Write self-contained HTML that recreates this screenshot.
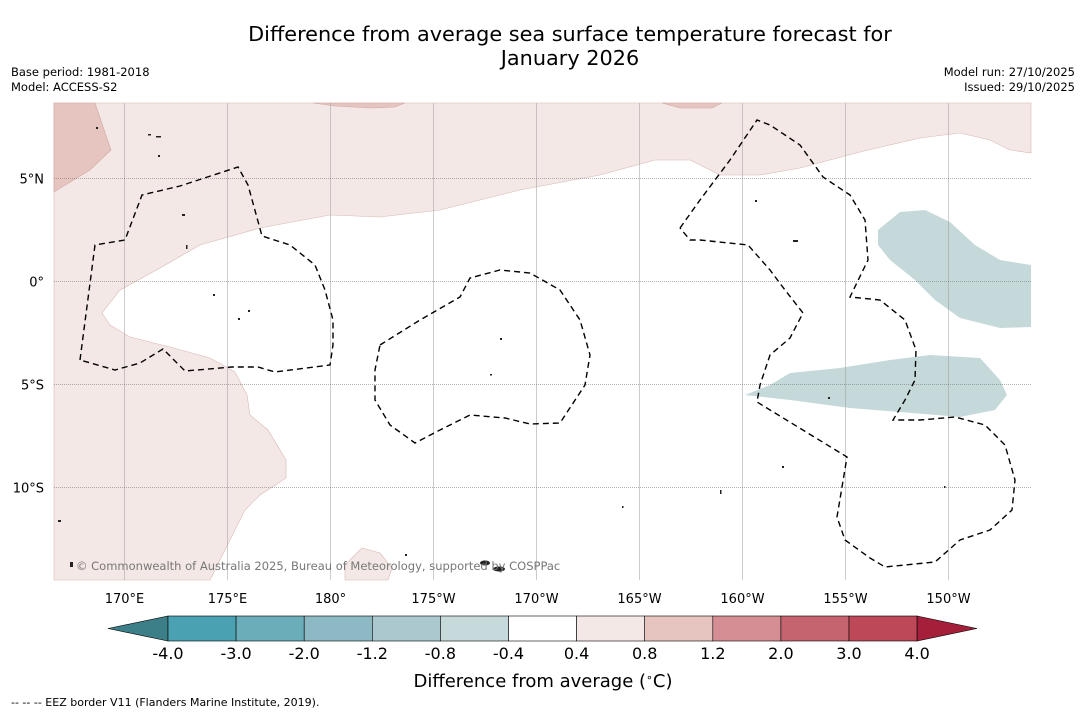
<!DOCTYPE html>
<html><head><meta charset="utf-8"><style>
body{margin:0;background:#fff;font-family:"DejaVu Sans","Liberation Sans",sans-serif}
#wrap{position:relative;width:1085px;height:713px;overflow:hidden;background:#fff}
.t{position:absolute;white-space:nowrap;color:#000}
</style></head><body>
<div id="wrap">
<div class="t" style="left:0;width:1140px;text-align:center;top:22px;font-size:20.8px;line-height:24px">Difference from average sea surface temperature forecast for<br>January 2026</div>
<div class="t" style="left:11px;top:65px;font-size:11.5px;line-height:15px">Base period: 1981-2018<br>Model: ACCESS-S2</div>
<div class="t" style="right:10px;top:65px;font-size:11.5px;line-height:15px;text-align:right">Model run: 27/10/2025<br>Issued: 29/10/2025</div>
<svg id="svg" width="1085" height="713" style="position:absolute;left:0;top:0">
<g id="map">
<rect x="54" y="103" width="977" height="477" fill="#fff"/>
<path fill="#f4e8e6" stroke="#d8b8b4" stroke-width="0.6" d="M54,103 L1031,103 L1031,153 L1010,150 L990,140 L960,133 L920,138 L860,152 L800,168 L760,175 L720,175 L690,160 L655,160 L600,175 L520,190 L440,210 L380,217 L330,215 L260,228 L200,245 L160,268 L120,290 L102,313 L110,325 L130,337 L170,347 L210,358 L235,372 L247,395 L250,415 L268,430 L286,460 L286,478 L260,495 L245,510 L210,580 L54,580 Z"/>
<path fill="#f4e8e6" stroke="#d8b8b4" stroke-width="0.6" d="M345,565 L362,548 L380,553 L392,568 L388,580 L345,580 Z"/>
<path fill="#e6c5c0" stroke="#d0a8a2" stroke-width="0.6" d="M54,103 L95,103 L111,150 L90,170 L54,192 Z M313,103 L405,103 L395,107 L370,108 L335,106 Z M662,103 L722,103 L712,108 L680,108 Z"/>
<path fill="#c6d9da" d="M878,230 L900,212 L925,210 L950,222 L975,245 L1000,260 L1031,265 L1031,327 L1000,328 L960,318 L935,300 L915,280 L890,260 L878,245 Z"/>
<path fill="#c6d9da" d="M745,395 L770,385 L790,373 L840,368 L890,360 L930,355 L980,358 L1000,380 L1007,395 L995,410 L960,417 L900,412 L850,408 L790,400 Z"/>
<g id="grid" stroke="#999" stroke-width="0.5"></g>
<g fill="none" stroke="#000" stroke-width="1.4" stroke-dasharray="6,4">
<path d="M80,360 L95,245 L125,240 L142,195 L180,186 L238,167 L248,185 L262,236 L290,245 L315,265 L325,290 L333,320 L333,345 L330,365 L275,372 L258,367 L232,367 L185,371 L163,349 L140,363 L115,370 Z"/>
<path d="M380,345 L420,320 L460,297 L470,278 L500,270 L530,273 L560,290 L580,320 L590,355 L585,385 L560,423 L530,424 L505,418 L470,415 L440,430 L415,443 L390,425 L375,400 L375,370 Z"/>
<path d="M680,228 L700,200 L730,160 L757,120 L770,125 L800,145 L823,177 L850,195 L865,220 L868,260 L850,297 L880,300 L905,320 L916,350 L915,380 L905,400 L893,420 L920,420 L955,417 L985,425 L1005,445 L1015,480 L1012,510 L990,530 L960,540 L935,562 L885,567 L870,558 L845,540 L837,517 L847,457 L757,402 L760,385 L770,355 L790,338 L803,313 L785,290 L770,270 L748,245 L700,240 L690,240 L680,228"/>
</g>
<g fill="#222">
<rect x="148" y="134" width="3" height="1.5"/><rect x="156" y="136" width="5" height="1.5"/><rect x="182" y="214" width="3" height="2"/><rect x="186" y="245" width="1.5" height="4"/><rect x="213" y="294" width="2" height="2"/><rect x="755" y="200" width="2" height="2"/><rect x="793" y="240" width="5" height="2"/><rect x="500" y="338" width="2" height="2"/><rect x="490" y="374" width="2" height="1.5"/><rect x="720" y="490" width="1.5" height="4"/><rect x="782" y="466" width="2" height="2"/><rect x="58" y="520" width="3" height="2"/><rect x="70" y="562" width="3" height="5"/><rect x="405" y="554" width="2" height="2"/>
<rect x="96" y="127" width="2" height="2"/><rect x="158" y="155" width="2" height="2"/><rect x="238" y="318" width="2" height="2"/><rect x="248" y="310" width="2" height="2"/><rect x="828" y="397" width="2" height="2"/><rect x="944" y="486" width="1.5" height="2"/><rect x="622" y="506" width="1.5" height="2"/>
<ellipse cx="485" cy="563" rx="5" ry="2.5"/><ellipse cx="499" cy="569" rx="6" ry="2.5"/>
</g>
<text x="76" y="570" font-size="11.5" fill="#777" font-family="DejaVu Sans, sans-serif">© Commonwealth of Australia 2025, Bureau of Meteorology, supported by COSPPac</text>
</g>
<g id="axes" font-family="DejaVu Sans, sans-serif" font-size="13"></g>
<g id="cbar" font-family="DejaVu Sans, sans-serif" font-size="16"></g>
<text x="543" y="687" text-anchor="middle" font-size="18" font-family="DejaVu Sans, sans-serif">Difference from average (<tspan baseline-shift="super" font-size="11">∘</tspan>C)</text>
<text x="11" y="706" font-size="11" font-family="DejaVu Sans, sans-serif">--  --  -- EEZ border V11 (Flanders Marine Institute, 2019).</text>
</svg>
</div>
<script>
const lonTicks=[170,175,180,-175,-170,-165,-160,-155,-150];
const lonLabels=["170°E","175°E","180°","175°W","170°W","165°W","160°W","155°W","150°W"];
const latTicks=[5,0,-5,-10];
const latLabels=["5°N","0°","5°S","10°S"];
const cbarBounds=[-4.0,-3.0,-2.0,-1.2,-0.8,-0.4,0.4,0.8,1.2,2.0,3.0,4.0];
const cbarColors=["#4aa1b1","#6badb9","#8cb9c4","#aac8cd","#c7dadb","#ffffff","#f4e8e6","#e6c5c0","#d48e94","#c5646f","#bd4858"];
const NS="http://www.w3.org/2000/svg";
function lonX(l){let e=l<0?l+360:l;return 124+(e-170)*20.6;}
function latY(v){return 281-v*20.6;}
function mk(t,a,p){const e=document.createElementNS(NS,t);for(const k in a)e.setAttribute(k,a[k]);p.appendChild(e);return e;}
const grid=document.getElementById('grid'),axes=document.getElementById('axes'),cb=document.getElementById('cbar');
lonTicks.forEach((l,i)=>{const x=Math.round(lonX(l))+0.5;
 const ln=mk('line',{x1:x,x2:x,y1:103,y2:580},grid);
 
 
 const t=mk('text',{x:x,y:603,'text-anchor':'middle'},axes);t.textContent=lonLabels[i];
 
 });
latTicks.forEach((v,i)=>{const y=Math.round(latY(v))+0.5;
 const ln=mk('line',{x1:54,x2:1031,y1:y,y2:y,'stroke-dasharray':'1,1',stroke:'#666'},grid);
 
 
 const t=mk('text',{x:44,y:y+5,'text-anchor':'end'},axes);t.textContent=latLabels[i];
 
 });
const cx0=168,cw=68.1,cy=616,ch=25;
const lt=mk('polygon',{points:`108,${cy+ch/2} ${cx0},${cy} ${cx0},${cy+ch}`,fill:'#3d7f88',stroke:'#000','stroke-width':0.6},cb);


cbarColors.forEach((c,i)=>{const r=mk('rect',{x:cx0+i*cw,y:cy,width:cw,height:ch,fill:c,stroke:'#000','stroke-width':0.6},cb);
 
 });
const xe=cx0+cbarColors.length*cw;
const rt=mk('polygon',{points:`${xe},${cy} 977,${cy+ch/2} ${xe},${cy+ch}`,fill:'#a51f3a',stroke:'#000','stroke-width':0.6},cb);


cbarBounds.forEach((b,i)=>{const t=mk('text',{x:cx0+i*cw,y:659,'text-anchor':'middle'},cb);t.textContent=b.toFixed(1);
 
 });
</script>
</body></html>
